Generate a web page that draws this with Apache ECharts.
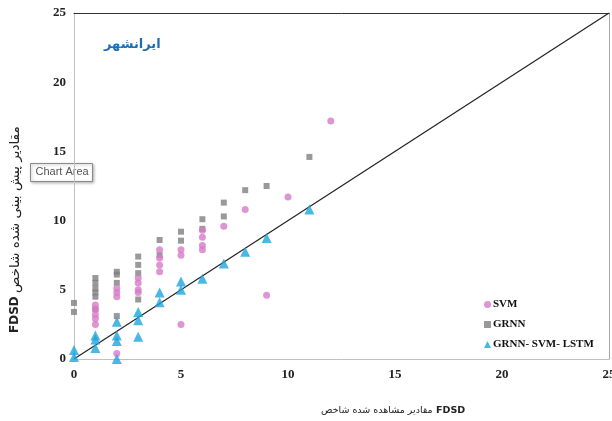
<!DOCTYPE html>
<html>
<head>
<meta charset="utf-8">
<script src="https://cdn.jsdelivr.net/npm/echarts@6/dist/echarts.min.js"></script>
<style>
  html, body { margin: 0; padding: 0; background: #fff; }
  #chart { width: 612px; height: 421px; }
</style>
</head>
<body>
<div id="chart"></div>
<script>
// Observed vs. predicted FDSD, Iranshahr station
const svmPoints = [
  [1, 3.9], [1, 3.6], [1, 3.2], [1, 2.9], [1, 2.5],
  [2, 5.1], [2, 4.8], [2, 4.5], [2, 0.4],
  [3, 5.85], [3, 5.5], [3, 5.0], [3, 4.8],
  [4, 7.9], [4, 7.3], [4, 6.8], [4, 6.3],
  [5, 7.9], [5, 7.5], [5, 2.5],
  [6, 9.3], [6, 8.8], [6, 8.2], [6, 7.9],
  [7, 9.6], [8, 10.8], [9, 4.6], [10, 11.7], [12, 17.2]
];
const grnnPoints = [
  [0, 4.05], [0, 3.4],
  [1, 5.85], [1, 5.5], [1, 5.1], [1, 4.8], [1, 4.5], [1, 3.6],
  [2, 6.3], [2, 6.1], [2, 5.5], [2, 3.1],
  [3, 7.4], [3, 6.8], [3, 6.2], [3, 4.3],
  [4, 8.6], [4, 7.5],
  [5, 9.2], [5, 8.55],
  [6, 10.1], [6, 9.4],
  [7, 11.3], [7, 10.3],
  [8, 12.2], [9, 12.5], [11, 14.6]
];
const hybridPoints = [
  [0, 0.65], [0, 0.15],
  [1, 1.7], [1, 1.4], [1, 0.8],
  [2, 2.7], [2, 1.7], [2, 1.3], [2, 0],
  [3, 3.4], [3, 2.8], [3, 1.6],
  [4, 4.8], [4, 4.1],
  [5, 5.6], [5, 5.0],
  [6, 5.8], [7, 6.9], [8, 7.75], [9, 8.75], [11, 10.8]
];
const identityLine = [[0, 0], [25, 25]];
const seriesNames = ['SVM', 'GRNN', 'GRNN- SVM- LSTM'];
const axisMin = 0, axisMax = 25, axisStep = 5;
const stationTitle = 'ایرانشهر';
const indexName = 'FDSD';
const xTitleWords = 'مقادیر مشاهده شده شاخص';
const yTitleWords = 'مقادیر پیش بینی شده شاخص';

const serif = '"Liberation Serif", "Times New Roman", serif';
const sans = '"DejaVu Sans", "Noto Sans", sans-serif';
const tickLabel = { fontFamily: serif, fontWeight: 'bold', fontSize: 13, color: '#222' };

const chart = echarts.init(document.getElementById('chart'), null, { renderer: 'canvas' });
chart.setOption({
  animation: false,
  backgroundColor: '#fff',
  grid: { left: 74, right: 3, top: 13, bottom: 62, containLabel: false, outerBoundsMode: 'none' },
  legend: {
    orient: 'vertical',
    left: 479,
    top: 294,
    itemWidth: 7,
    itemHeight: 7,
    itemGap: 9,
    data: seriesNames,
    textStyle: { fontFamily: serif, fontWeight: 'bold', fontSize: 11, color: '#111', padding: [0, 0, 0, -3] }
  },
  xAxis: [{
    type: 'value', min: axisMin, max: axisMax, interval: axisStep,
    axisLine: { show: true, lineStyle: { color: '#c0c0c0', width: 1 } },
    axisTick: { show: false },
    splitLine: { show: false },
    axisLabel: Object.assign({ margin: 9 }, tickLabel)
  }, {
    type: 'value', position: 'top', min: axisMin, max: axisMax,
    axisLine: { show: true, onZero: false, lineStyle: { color: '#333', width: 1 } },
    axisTick: { show: false }, axisLabel: { show: false }, splitLine: { show: false }
  }],
  yAxis: [{
    type: 'value', min: axisMin, max: axisMax, interval: axisStep,
    axisLine: { show: true, lineStyle: { color: '#c0c0c0', width: 1 } },
    axisTick: { show: false },
    splitLine: { show: false },
    axisLabel: Object.assign({ margin: 8 }, tickLabel)
  }, {
    type: 'value', position: 'right', min: axisMin, max: axisMax,
    axisLine: { show: true, onZero: false, lineStyle: { color: '#a6a6a6', width: 1 } },
    axisTick: { show: false }, axisLabel: { show: false }, splitLine: { show: false }
  }],
  series: [
    {
      name: 'identity', type: 'line', data: identityLine, showSymbol: false, silent: true,
      lineStyle: { color: '#222', width: 1.2 }, z: 1
    },
    {
      name: seriesNames[0], type: 'scatter', data: svmPoints, symbol: 'circle', symbolSize: 7,
      itemStyle: { color: '#d77bc8' }, z: 3
    },
    {
      name: seriesNames[1], type: 'scatter', data: grnnPoints, symbol: 'rect', symbolSize: 6,
      itemStyle: { color: '#808080' }, z: 2
    },
    {
      name: seriesNames[2], type: 'scatter', data: hybridPoints, symbol: 'triangle', symbolSize: 10,
      itemStyle: { color: '#1ea5de' }, z: 4
    }
  ],
  graphic: [
    {
      type: 'text', left: 104, top: 38,
      style: { text: stationTitle, fill: '#1f6db3', font: 'bold 13px ' + sans }
    },
    {
      // x-axis title: Arabic words followed by the index name
      type: 'text', left: 321, top: 405,
      style: {
        text: '{a|' + xTitleWords + '} {b|' + indexName + '}',
        rich: {
          a: { fontFamily: sans, fontSize: 9.5, fill: '#222' },
          b: { fontFamily: sans, fontSize: 9.5, fontWeight: 'bold', fill: '#222' }
        }
      }
    },
    {
      // y-axis title, rotated to read bottom-to-top (index name at the bottom)
      type: 'text', rotation: Math.PI / 2, x: 8, y: 333,
      style: {
        text: '{b|' + indexName + '} {a|' + yTitleWords + '}',
        rich: {
          a: { fontFamily: sans, fontSize: 13.5, fill: '#222' },
          b: { fontFamily: sans, fontSize: 12, fontWeight: 'bold', fill: '#222' }
        }
      }
    },
    {
      type: 'group', left: 30, top: 163,
      children: [
        {
          type: 'rect', shape: { x: 0, y: 0, width: 62, height: 18 },
          style: { fill: '#fff', stroke: '#8a8a8a', lineWidth: 1, shadowBlur: 3, shadowColor: 'rgba(0,0,0,0.3)', shadowOffsetX: 1, shadowOffsetY: 1 }
        },
        {
          type: 'text', x: 5, y: 3,
          style: { text: 'Chart Area', fill: '#555', font: '11px "Liberation Sans", Arial, sans-serif' }
        }
      ]
    }
  ]
});
</script>
</body>
</html>
